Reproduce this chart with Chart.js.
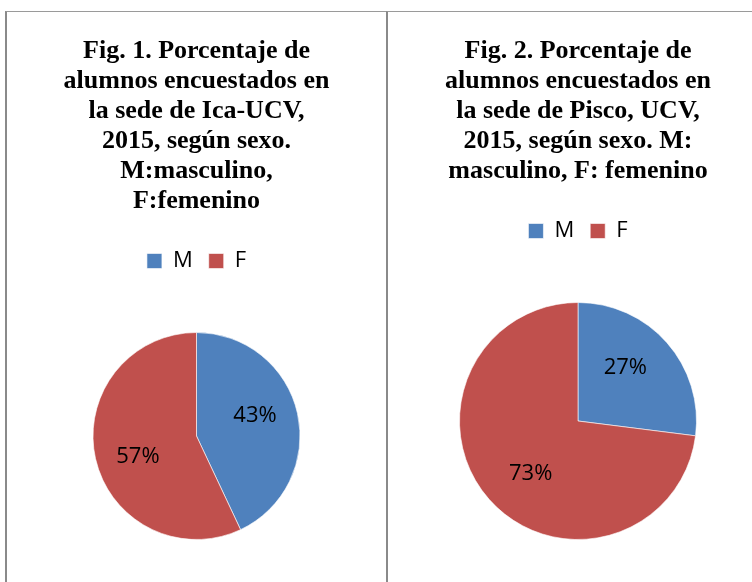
<!DOCTYPE html>
<html>
<head>
<meta charset="utf-8">
<script src="https://cdn.jsdelivr.net/npm/chart.js@4"></script>
<style>
  html, body { margin: 0; padding: 0; background: #fff; overflow: hidden; }
  body { width: 752px; height: 582px; position: relative; }
  .panel {
    position: absolute;
    top: 11px;
    height: 580px;
    border-top: 1px solid #9a9a9a;
    background: #fff;
  }
  #left { left: 5px; width: 379px; border-left: 2px solid #8a8a8a; border-right: 1px solid #8a8a8a; }
  #right { left: 386px; width: 380px; border-left: 2px solid #8a8a8a; }
  canvas { display: block; }
</style>
</head>
<body>
<div class="panel" id="left"><canvas id="chart1"></canvas></div>
<div class="panel" id="right"><canvas id="chart2"></canvas></div>
<script>
// Data

const sexLabels = ["M", "F"];
const icaValues = [43, 57];     // sede Ica-UCV
const piscoValues = [27, 73];   // sede Pisco, UCV

const title1 = ["Fig. 1. Porcentaje de", "alumnos encuestados en", "la sede de Ica-UCV,",
                "2015, según sexo.", "M:masculino,", "F:femenino"];
const title2 = ["Fig. 2. Porcentaje de", "alumnos encuestados en", "la sede de Pisco, UCV,",
                "2015, según sexo. M:", "masculino, F: femenino"];

const sexColors = ["#4F81BD", "#C0504D"];

// Writes the percentage inside every slice
const pctLabels = {
  id: "pctLabels",
  afterDatasetsDraw(chart) {
    const ctx = chart.ctx;
    const meta = chart.getDatasetMeta(0);
    const values = chart.data.datasets[0].data;
    ctx.save();
    ctx.font = "22px 'Open Sans', 'Liberation Sans', sans-serif";
    ctx.fillStyle = "#000";
    ctx.textAlign = "center";
    ctx.textBaseline = "middle";
    meta.data.forEach(function (arc, i) {
      const p = arc.getProps(["x", "y", "startAngle", "endAngle", "outerRadius"], true);
      const mid = (p.startAngle + p.endAngle) / 2 - 0.12;
      const r = p.outerRadius * 0.6;
      ctx.fillText(values[i] + "%", p.x + Math.cos(mid) * r, p.y + Math.sin(mid) * r);
    });
    ctx.restore();
  }
};

// Extra space between legend and pie
const legendGap = {
  id: "legendGap",
  beforeInit(chart) {
    const fit = chart.legend.fit;
    chart.legend.fit = function () {
      fit.bind(chart.legend)();
      this.height += 50;
    };
  }
};

function makePie(canvasId, titleLines, values, w) {
  const canvas = document.getElementById(canvasId);
  canvas.width = w;
  canvas.height = 570;
  canvas.style.width = w + "px";
  canvas.style.height = "570px";
  return new Chart(canvas, {
    type: "pie",
    data: {
      labels: sexLabels,
      datasets: [{
        data: values,
        backgroundColor: sexColors,
        borderColor: "rgba(255,255,255,0.6)",
        borderWidth: 1
      }]
    },
    options: {
      responsive: false,
      animation: false,
      layout: { padding: { bottom: 42 } },
      plugins: {
        title: {
          display: true,
          text: titleLines,
          color: "#000",
          font: { family: "'Liberation Serif', 'Times New Roman', serif", size: 26, weight: "bold", lineHeight: 30 / 26 },
          padding: { top: 24, bottom: 18 }
        },
        legend: {
          position: "top",
          labels: {
            boxWidth: 15,
            boxHeight: 15,
            padding: 16,
            color: "#000",
            font: { family: "'Open Sans', 'Liberation Sans', sans-serif", size: 22 }
          }
        },
        tooltip: { enabled: false }
      }
    },
    plugins: [pctLabels, legendGap]
  });
}

makePie("chart1", title1, icaValues, 379);
makePie("chart2", title2, piscoValues, 380);
</script>
</body>
</html>
